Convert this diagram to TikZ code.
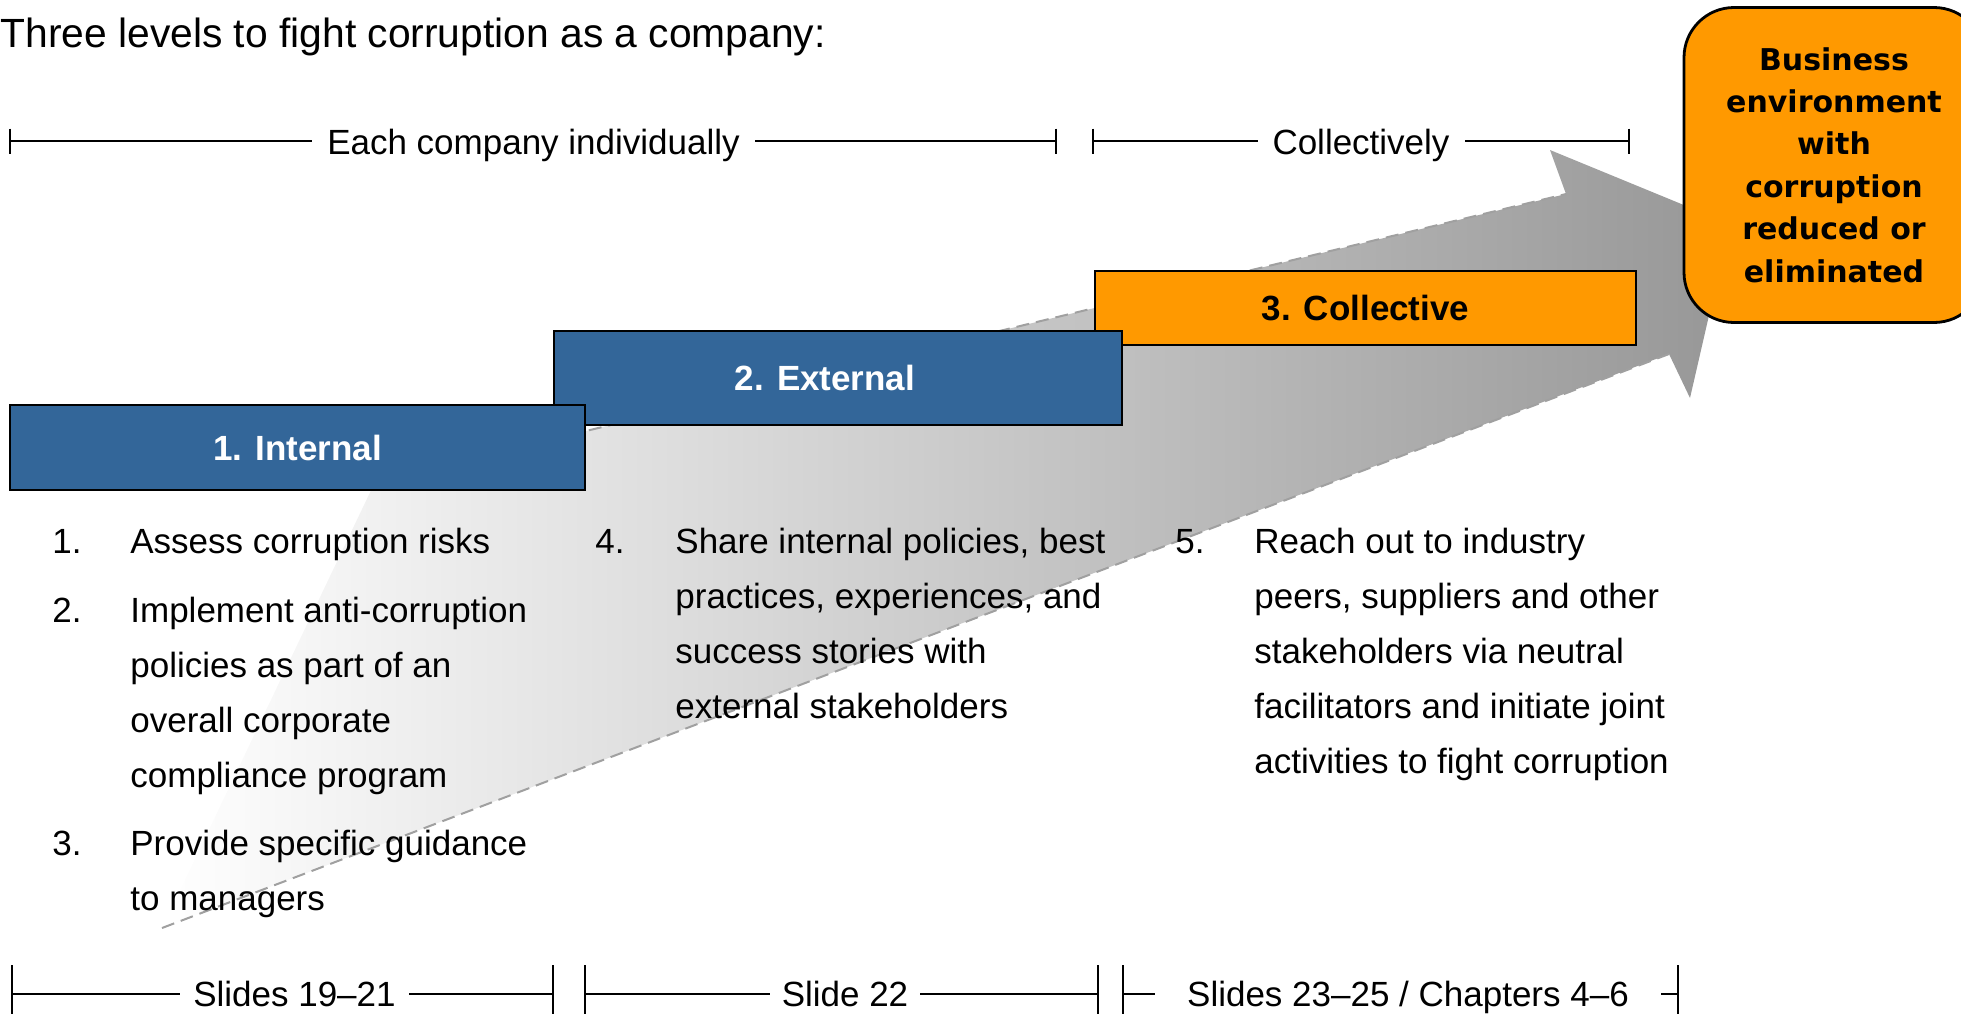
\documentclass[tikz,border=0pt]{standalone}
\usepackage{fontspec}
\setmainfont{Liberation Sans}
\newfontfamily\calloutfont{DejaVu Sans}
\definecolor{stepblue}{HTML}{336699}
\definecolor{steporange}{HTML}{FF9900}
\definecolor{arrowend}{HTML}{979797}
\definecolor{arrowedge}{HTML}{A0A0A0}
\begin{document}
\begin{tikzpicture}[x=0.5pt,y=-0.5pt,
  levelbox/.style={draw=black, line width=1.2pt, inner sep=0pt, font=\fontsize{17.5}{21}\selectfont\bfseries},
  % multi-line text nodes are placed by the baseline of their last line
  bodytext/.style={font=\fontsize{17.5}{27.5}\selectfont, anchor=base west, inner sep=0pt, align=left},
  itemnum/.style={font=\fontsize{17.5}{27.5}\selectfont, anchor=base west, inner sep=0pt},
  bracketline/.style={line width=1pt},
  bracketlabel/.style={font=\fontsize{17.5}{21}\selectfont, fill=white, anchor=base, inner ysep=0pt, inner xsep=7.5pt},
  arrowline/.style={arrowedge, line width=1pt, dash pattern=on 6.5pt off 3.5pt},
]
\useasboundingbox (0,0) rectangle (1961,1013);

% heading
\node[anchor=base west, inner sep=0pt, font=\fontsize{20.4}{24}\selectfont] (title) at (0,47) {Three levels to fight corruption as a company:};

% wide shaded arrow running behind the three steps
\coordinate (T1) at (162,928);
\coordinate (L1) at (1669,354);
\coordinate (L2) at (1690,398);
\coordinate (H)  at (1730,224);
\coordinate (U2) at (1550,150);
\coordinate (U1) at (1566,194);
\coordinate (T2) at (375,482);
\shade[left color=white, right color=arrowend] (T1) -- (L1) -- (L2) -- (H) -- (U2) -- (U1) -- (T2) -- cycle;
\draw[arrowline] (T1) -- (L1);
\draw[arrowline] (T2) -- (U1);

% the three steps
\node[levelbox, fill=steporange, minimum width=270.5pt, minimum height=37pt] (coll) at (1365.5,308) {3. Collective};
\node[levelbox, fill=stepblue, minimum width=284pt, minimum height=47pt] (ext) at (838,378) {};
\node[inner sep=0pt, text=white, font=\fontsize{17.5}{21}\selectfont\bfseries] (extlabel) at ([xshift=-6.5pt]ext.center) {2. External};
\node[levelbox, fill=stepblue, text=white, minimum width=287.5pt, minimum height=42.5pt] (int) at (297.5,447.5) {1. Internal};

% goal
\node[draw=black, line width=1.4pt, fill=steporange, rounded corners=25pt,
      minimum width=150pt, minimum height=157.5pt, align=center, inner sep=0pt,
      font=\calloutfont\bfseries\fontsize{15}{21.2}\selectfont] (goal) at (1834,165)
      {Business\\environment\\with\\corruption\\reduced or\\eliminated};

% upper brackets
\coordinate (indL) at (10,141);
\coordinate (indR) at (1056,141);
\coordinate (colL) at (1093,141);
\coordinate (colR) at (1629,141);
\draw[bracketline] (indL) -- (indR);
\draw[bracketline] (colL) -- (colR);
\foreach \c in {indL,indR,colL,colR}
  \draw[bracketline] (\c) ++(0,-12.5) -- ++(0,25);
\node[bracketlabel] (indT) at (533.5,154.5) {Each company individually};
\node[bracketlabel] (colT) at (1361,154.5) {Collectively};

% lower brackets
\coordinate (sAL) at (12,994);
\coordinate (sAR) at (553,994);
\coordinate (sBL) at (585,994);
\coordinate (sBR) at (1098,994);
\coordinate (sCL) at (1123,994);
\coordinate (sCR) at (1678,994);
\draw[bracketline] (sAL) -- (sAR);
\draw[bracketline] (sBL) -- (sBR);
\draw[bracketline] (sCL) -- (sCR);
\foreach \c in {sAL,sAR,sBL,sBR,sCL,sCR}
  \draw[bracketline] (\c) ++(0,-29) -- ++(0,60);
\node[bracketlabel, inner xsep=6.5pt] (sAT) at (294.5,1006.5) {Slides 19–21};
\node[bracketlabel, inner xsep=6pt] (sBT) at (845,1006.5) {Slide 22};
\node[bracketlabel, inner xsep=16pt] (sCT) at (1408,1006.5) {Slides 23–25 / Chapters 4–6};

% measures
\node[itemnum] (n1) at (52,553.75) {1.};
\node[bodytext] (t1) at (130,553.75) {Assess corruption risks};
\node[itemnum] (n2) at (52,622.5) {2.};
\node[bodytext] (t2) at (130,787.5) {Implement anti-corruption\\policies as part of an\\overall corporate\\compliance program};
\node[itemnum] (n3) at (52,855) {3.};
\node[bodytext] (t3) at (130,910) {Provide specific guidance\\to managers};
\node[itemnum] (n4) at (595,553.75) {4.};
\node[bodytext] (t4) at (675,718.75) {Share internal policies, best\\practices, experiences, and\\success stories with\\external stakeholders};
\node[itemnum] (n5) at (1175,553.75) {5.};
\node[bodytext] (t5) at (1254,773.75) {Reach out to industry\\peers, suppliers and other\\stakeholders via neutral\\facilitators and initiate joint\\activities to fight corruption};
\end{tikzpicture}
\end{document}
